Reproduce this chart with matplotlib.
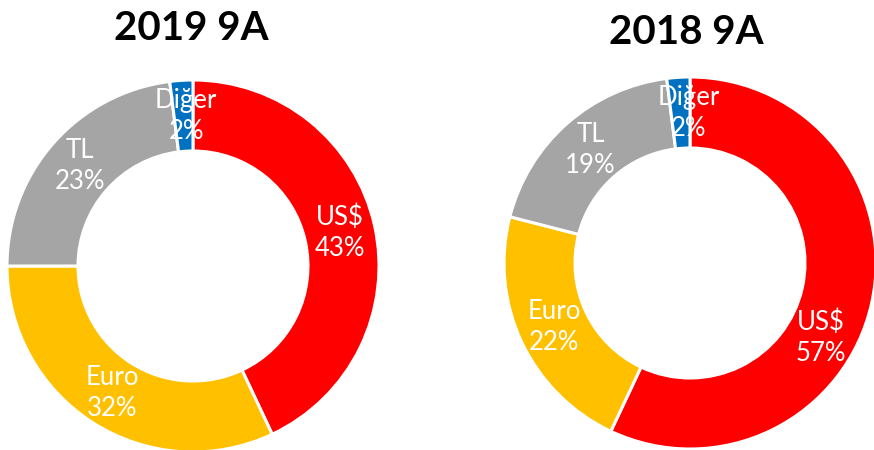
import numpy as np
import matplotlib
matplotlib.use("Agg")
import matplotlib.pyplot as plt

plt.rcParams['font.family'] = ['Lato', 'DejaVu Sans']

labels = ["US$", "Euro", "TL", "Diğer"]
colors = ["#FF0000", "#FFC000", "#A5A5A5", "#0070C0"]

titles = ["2019 9A", "2018 9A"]
shares_2019 = [43, 32, 23, 2]
shares_2018 = [57, 22, 19, 2]

# layout in pixels (y up)
centers = [(193, 184), (690, 187)]
title_pos = [(191, 422), (686, 418)]
outer_r = 186
ring_w = 71
# Excel nudged a couple of labels away from the wedge mid-angle (degrees)
label_shift = [[0, 0, 0, 1], [17, 0, 0, 3]]


def donut(ax, values, center, title, tpos, shifts):
    ax.pie(values, colors=colors, startangle=90, counterclock=False,
           radius=outer_r, center=center,
           wedgeprops=dict(width=ring_w, edgecolor="white", linewidth=2.2))
    total = float(sum(values))
    cum = np.cumsum([0] + list(values))
    r_lab = outer_r - ring_w / 2
    for i, lab in enumerate(labels):
        mid = (cum[i] + cum[i + 1]) / 2 / total * 360 + shifts[i]
        ang = np.deg2rad(90 - mid)
        x = center[0] + r_lab * np.cos(ang)
        y = center[1] + r_lab * np.sin(ang)
        ax.text(x, y, f"{lab}\n{values[i]}%", color="white", fontsize=18.5,
                ha="center", va="center", linespacing=1.3)
    ax.text(tpos[0], tpos[1], title, fontsize=29, fontweight="bold",
            ha="center", va="center", color="black")


fig = plt.figure(figsize=(8.74, 4.5), dpi=100)
ax = fig.add_axes([0, 0, 1, 1])
donut(ax, shares_2019, centers[0], titles[0], title_pos[0], label_shift[0])
donut(ax, shares_2018, centers[1], titles[1], title_pos[1], label_shift[1])
ax.set_xlim(0, 874)
ax.set_ylim(0, 450)
ax.set_aspect("equal")
ax.axis("off")

fig.savefig("out.png", dpi=100)
